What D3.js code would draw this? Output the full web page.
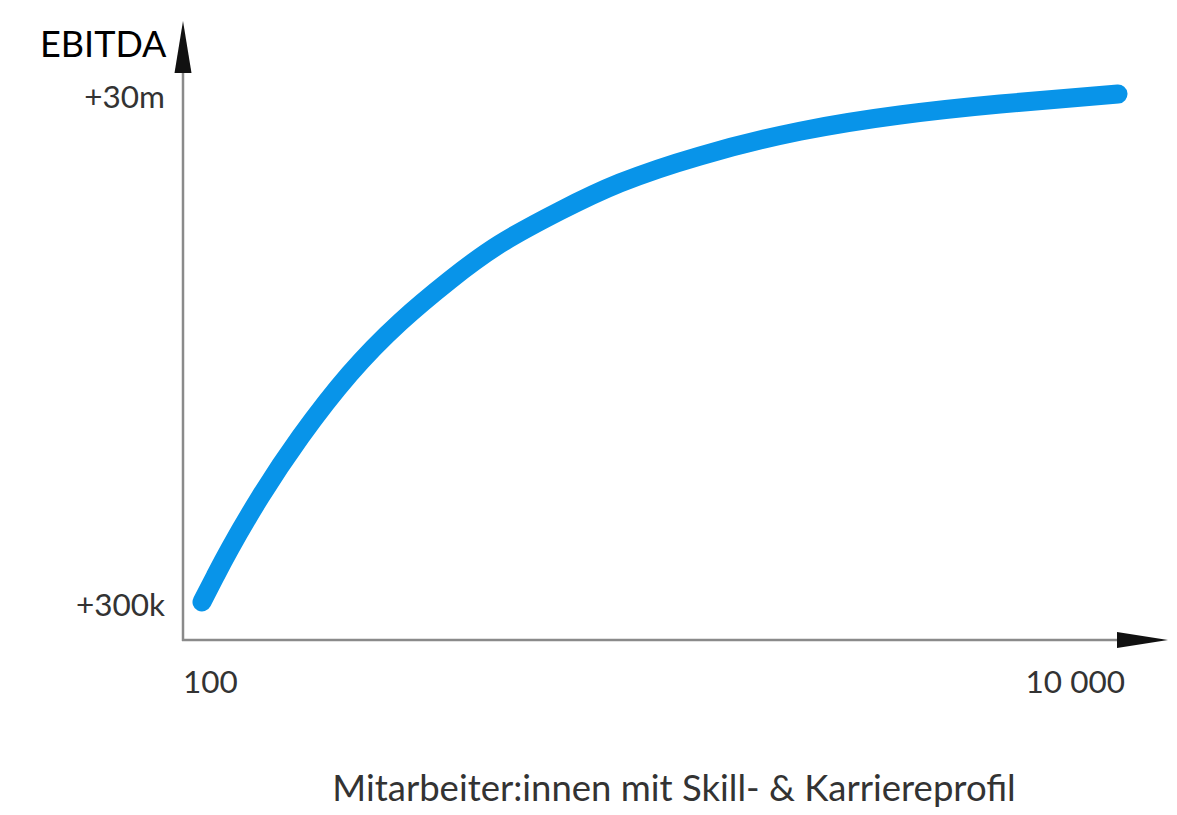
<!DOCTYPE html>
<html>
<head>
<meta charset="utf-8">
<script src="https://cdn.jsdelivr.net/npm/d3@7"></script>
<style>
  body { margin: 0; background: #fff; }
  svg { display: block; font-family: Lato, "Open Sans", sans-serif; }
</style>
</head>
<body>
<svg id="chart"></svg>
<script>
// employees with skill & career profile vs. EBITDA (in millions)
const employees = [100, 106.8, 115, 134, 164, 210, 271, 348, 447, 605, 818, 1220, 2020, 3340, 5530, 10000];
const ebitda = [0.3, 0.378, 0.486, 0.777, 1.34, 2.37, 3.8, 5.56, 7.7, 10.4, 13.4, 17.1, 21.4, 24.8, 27.4, 30];

const xTicks = [100, 10000];
const xTickLabels = ["100", "10 000"];
const yTicks = [0.3, 30];
const yTickLabels = ["+300k", "+30m"];

const yTitle = "EBITDA";
const xTitle = "Mitarbeiter:innen mit Skill- & Karriereprofil";

const width = 1177,
  height = 815;
const origin = { x: 183, y: 640 };

const svg = d3.select("#chart").attr("width", width).attr("height", height);

const x = d3.scaleLog().domain([100, 10000]).range([202, 1118]);
const y = d3.scaleLog().domain([0.3, 30]).range([602, 94]);

// axes
svg
  .append("line")
  .attr("x1", origin.x)
  .attr("x2", origin.x)
  .attr("y1", origin.y + 1)
  .attr("y2", 60)
  .attr("stroke", "#8a8a8a")
  .attr("stroke-width", 2.5);

svg
  .append("line")
  .attr("x1", origin.x - 1)
  .attr("x2", 1125)
  .attr("y1", origin.y)
  .attr("y2", origin.y)
  .attr("stroke", "#8a8a8a")
  .attr("stroke-width", 2.5);

// arrow heads
svg
  .append("path")
  .attr("d", `M${origin.x},21 L${origin.x + 8.5},73 L${origin.x - 8.5},73 Z`)
  .attr("fill", "#111");

svg
  .append("path")
  .attr("d", `M1168,${origin.y} L1117,${origin.y - 8} L1117,${origin.y + 8} Z`)
  .attr("fill", "#111");

// tick labels
svg
  .selectAll(".y-tick")
  .data(yTicks)
  .enter()
  .append("text")
  .attr("class", "y-tick")
  .attr("x", 165)
  .attr("y", (d) => y(d) + 3)
  .attr("dy", "0.35em")
  .attr("text-anchor", "end")
  .attr("font-size", 31.5)
  .attr("fill", "#333")
  .text((d, i) => yTickLabels[i]);

svg
  .selectAll(".x-tick")
  .data(xTicks)
  .enter()
  .append("text")
  .attr("class", "x-tick")
  .attr("x", (d, i) => (i === 0 ? x(d) - 19 : x(d) + 7))
  .attr("y", 693)
  .attr("text-anchor", (d, i) => (i === 0 ? "start" : "end"))
  .attr("font-size", 31.5)
  .attr("fill", "#333")
  .text((d, i) => xTickLabels[i]);

// titles
svg
  .append("text")
  .attr("x", 40)
  .attr("y", 57)
  .attr("font-size", 36)
  .attr("fill", "#000")
  .text(yTitle);

svg
  .append("text")
  .attr("x", 674)
  .attr("y", 801)
  .attr("text-anchor", "middle")
  .attr("font-size", 36.5)
  .attr("fill", "#333")
  .text(xTitle);

// curve
const line = d3
  .line()
  .x((d) => x(d[0]))
  .y((d) => y(d[1]))
  .curve(d3.curveNatural);

svg
  .append("path")
  .datum(employees.map((e, i) => [e, ebitda[i]]))
  .attr("d", line)
  .attr("fill", "none")
  .attr("stroke", "#0894e9")
  .attr("stroke-width", 19)
  .attr("stroke-linecap", "round")
  .attr("stroke-linejoin", "round");
</script>
</body>
</html>
